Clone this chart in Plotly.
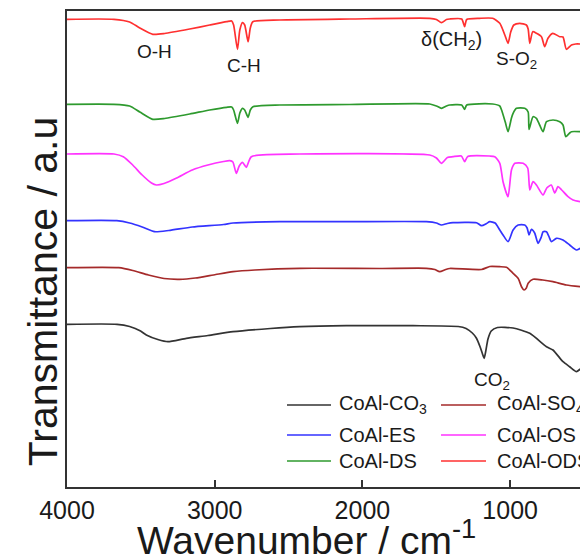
import plotly.graph_objects as go

# ---- data (wavenumber in cm-1, transmittance in a.u., offset stacked) ----
wn_co3 = [4000, 3661, 3576, 3502, 3463, 3385, 3317, 3192, 3046, 2876, 2623, 2424, 2109, 1657, 1351, 1298, 1256, 1229, 1203, 1187, 1176, 1166, 1150, 1128, 1086, 980, 867, 754, 710, 642, 597, 551, 525]
t_co3 = [162.7, 162.7, 160.5, 156, 152, 147.5, 145.3, 148.7, 151.5, 155.3, 158.5, 160.3, 161.3, 161.3, 160.5, 158.5, 154, 149, 140, 133, 128.7, 135, 148, 156, 159.5, 159, 153.7, 140.3, 137, 125.3, 120.3, 115.3, 118]

wn_so4 = [4000, 3650, 3555, 3449, 3343, 3237, 3131, 2993, 2876, 2728, 2424, 1881, 1567, 1510, 1477, 1436, 1409, 1194, 1138, 1070, 1025, 980, 946, 922, 906, 890, 878, 845, 779, 710, 619, 525]
t_so4 = [219.3, 219.3, 216.5, 212, 208.5, 207.7, 209, 212.5, 215.3, 217, 218.7, 218.5, 218.7, 217.5, 215.3, 217.5, 218.5, 217.5, 220.5, 220.3, 219.7, 213.7, 208.7, 200, 197, 199, 203.7, 207.7, 207, 205.3, 202, 200.3]

wn_es = [4000, 3663, 3576, 3491, 3407, 3311, 3152, 2940, 2876, 2560, 2109, 1567, 1499, 1465, 1425, 1387, 1228, 1194, 1160, 1138, 1102, 1070, 1048, 1014, 980, 946, 901, 885, 872, 856, 834, 811, 789, 777, 754, 736, 721, 687, 642, 597, 551, 525]
t_es = [266.3, 266.3, 264, 260, 255.3, 256.5, 260, 262.5, 264, 265.3, 265.3, 265.3, 264, 262, 263.5, 264.3, 264.3, 261.3, 263.5, 265.3, 264, 257, 252, 245.3, 257, 262, 262, 259, 252, 257.7, 254, 243.7, 250, 255.3, 255.3, 250, 245.3, 248.7, 247, 242, 237, 238.7]

wn_os = [4000, 3682, 3619, 3555, 3491, 3428, 3395, 3343, 3258, 3152, 3046, 2940, 2898, 2877, 2854, 2834, 2812, 2786, 2752, 2424, 1544, 1499, 1465, 1425, 1387, 1330, 1308, 1287, 1139, 1104, 1070, 1048, 1014, 991, 968, 912, 881, 867, 845, 822, 777, 752, 721, 698, 676, 651, 608, 574, 525]
t_os = [333, 333, 330.3, 322, 312, 304, 302, 303.5, 309, 317, 322, 325.5, 326.3, 325, 313.7, 321, 324.7, 319.7, 330.3, 333, 332, 329, 323.7, 329.5, 330.3, 331, 325.3, 330.5, 331, 330.3, 323.7, 305.3, 290.3, 317, 323.7, 323.7, 319, 297, 305.3, 302, 292, 299, 302, 294, 300.3, 297, 290.3, 287, 285.3]

wn_ds = [4000, 3682, 3576, 3507, 3419, 3339, 3169, 3034, 2919, 2885, 2872, 2846, 2830, 2812, 2797, 2774, 2759, 2741, 2560, 2086, 1544, 1499, 1465, 1431, 1409, 1328, 1308, 1294, 1118, 1070, 1058, 1033, 1014, 991, 980, 957, 901, 878, 872, 845, 822, 800, 777, 754, 710, 664, 642, 623, 597, 585, 525]
t_ds = [382.7, 382.7, 381, 375, 367.7, 368.5, 373, 377, 379.7, 380, 377, 363.7, 374, 378.7, 377, 369.7, 377, 380.3, 382, 382.5, 383, 381, 378.7, 381, 382, 382, 377.7, 382, 383, 381, 377, 365, 355.3, 369, 373.7, 378.7, 378.7, 375, 357.7, 370.3, 368.7, 362, 355.3, 365.3, 367, 365.3, 362, 350.3, 354, 355.3, 355.3]

wn_ods = [4000, 3682, 3576, 3507, 3419, 3339, 3169, 3034, 2919, 2885, 2872, 2846, 2830, 2812, 2797, 2774, 2759, 2742, 2560, 2086, 1544, 1499, 1465, 1431, 1409, 1328, 1308, 1294, 1206, 1118, 1070, 1036, 1014, 996, 975, 935, 890, 878, 867, 847, 822, 788, 766, 744, 712, 664, 642, 619, 585, 556, 525]
t_ods = [467.7, 467.7, 465, 459, 452.7, 453.5, 458, 462, 465.3, 466, 462, 437.7, 457, 464.3, 462, 445.3, 459, 465.3, 467, 468, 468.7, 467.5, 464.3, 467.5, 468, 468, 460.3, 467.5, 468.7, 468.7, 463.7, 452, 443.7, 455, 462, 463.7, 462, 458, 443.7, 455.3, 453.7, 450.3, 440.3, 448.7, 453.7, 450.3, 450, 437.7, 442, 443, 443]

names = ["CoAl-CO<sub>3</sub>", "CoAl-SO<sub>4</sub>", "CoAl-ES", "CoAl-OS", "CoAl-DS", "CoAl-ODS"]
colors = ["#333333", "#a52a2a", "#3333ff", "#ff33ff", "#2e9a2e", "#ff3030"]
series = [(wn_co3, t_co3), (wn_so4, t_so4), (wn_es, t_es), (wn_os, t_os), (wn_ds, t_ds), (wn_ods, t_ods)]

peak_labels = ["O-H", "C-H", "δ(CH<sub>2</sub>)", "S-O<sub>2</sub>", "CO<sub>2</sub>"]
peak_x = [3405, 2804, 1395, 955, 1125]
peak_y = [436, 422, 447, 427, 106]
peak_size = [19, 19, 20, 19, 19]

x_ticks = [4000, 3000, 2000, 1000]

FONT = "Liberation Sans, Arial, sans-serif"

fig = go.Figure()
for (wn, t), name, col in zip(series, names, colors):
    fig.add_trace(go.Scatter(x=wn, y=t, mode="lines", name=name,
                             line=dict(color=col, width=1.7, shape="spline", smoothing=0.6),
                             showlegend=False))

annotations = []
for txt, px, py, fs in zip(peak_labels, peak_x, peak_y, peak_size):
    annotations.append(dict(x=px, y=py, xref="x", yref="y", text=txt, showarrow=False,
                            font=dict(family=FONT, size=fs, color="#1a1a1a"),
                            xanchor="center", yanchor="middle"))

# manual two-column legend (row-wise order)
shapes = []
col_line_x = [(0.4288, 0.5146), (0.729, 0.8168)]
col_text_x = [0.5263, 0.8343]
row_y = [0.1723, 0.1092, 0.0546]
for i, (name, col) in enumerate(zip(names, colors)):
    r, c = divmod(i, 2)
    x0, x1 = col_line_x[c]
    shapes.append(dict(type="line", xref="paper", yref="paper", x0=x0, x1=x1,
                       y0=row_y[r], y1=row_y[r], line=dict(color=col, width=1.7)))
    annotations.append(dict(x=col_text_x[c], y=row_y[r], xref="paper", yref="paper",
                            text=name, showarrow=False, xanchor="left", yanchor="middle",
                            font=dict(family=FONT, size=20, color="#1a1a1a")))

# axis titles
annotations.append(dict(x=0.466, y=-0.106, xref="paper", yref="paper",
                        text="Wavenumber / cm<sup>-1</sup>", showarrow=False,
                        xanchor="center", yanchor="middle",
                        font=dict(family=FONT, size=39, color="#1a1a1a")))
annotations.append(dict(x=-0.048, y=0.41, xref="paper", yref="paper",
                        text="Transmittance / a.u", showarrow=False, textangle=-90,
                        xanchor="center", yanchor="middle",
                        font=dict(family=FONT, size=41, color="#1a1a1a")))

fig.update_layout(
    width=580, height=557,
    margin=dict(l=67, r=0, t=11, b=70),
    paper_bgcolor="white", plot_bgcolor="white",
    font=dict(family=FONT, color="#1a1a1a"),
    annotations=annotations, shapes=shapes,
    xaxis=dict(range=[4000, 527], tickvals=x_ticks,
               ticks="inside", ticklen=7, tickwidth=1.5, tickcolor="#333",
               showline=True, linecolor="#333", linewidth=1.5, mirror=True,
               showgrid=False, zeroline=False,
               tickfont=dict(family=FONT, size=25, color="#1a1a1a")),
    yaxis=dict(range=[0, 476], showticklabels=False, ticks="",
               showline=True, linecolor="#333", linewidth=1.5,
               showgrid=False, zeroline=False),
)

fig.write_html("out.html")
